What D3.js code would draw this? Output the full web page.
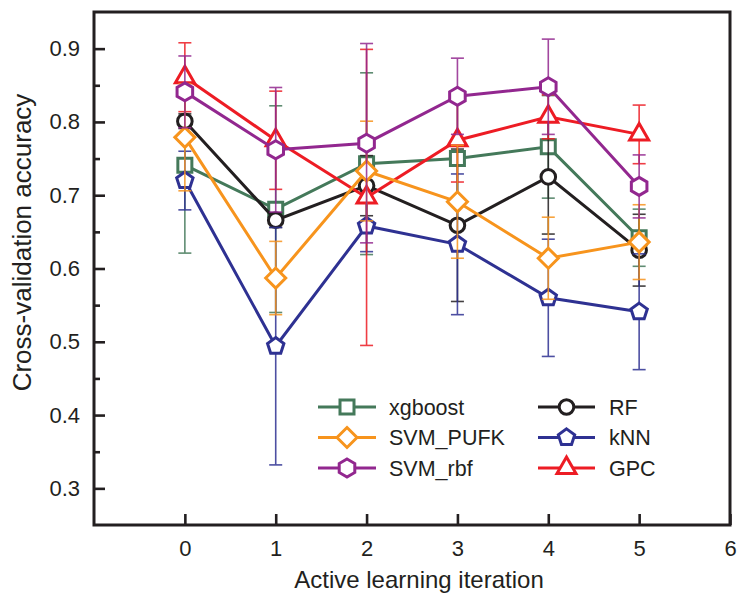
<!DOCTYPE html>
<html>
<head>
<meta charset="utf-8">
<script src="https://cdn.jsdelivr.net/npm/d3@7"></script>
<style>
  html, body { margin: 0; padding: 0; background: #fff; }
  svg { display: block; font-family: "Liberation Sans", Arial, sans-serif; }
</style>
</head>
<body>
<svg id="chart" width="738" height="594"></svg>
<script>
// Active learning iterations (x positions)
const iterations = [0, 1, 2, 3, 4, 5];
const xTicks = [0, 1, 2, 3, 4, 5, 6];
const yTicks = [0.3, 0.4, 0.5, 0.6, 0.7, 0.8, 0.9];

// Mean cross-validation accuracy and its error per model
const xgboostMean = [0.741, 0.681, 0.743, 0.750, 0.766, 0.642];
const xgboostErr  = [0.120, 0.141, 0.124, 0.090, 0.070, 0.039];
const rfMean      = [0.801, 0.666, 0.713, 0.659, 0.725, 0.625];
const rfErr       = [0.010, 0.010, 0.041, 0.104, 0.078, 0.049];
const pufkMean    = [0.779, 0.587, 0.733, 0.691, 0.614, 0.636];
const pufkErr     = [0.073, 0.050, 0.068, 0.077, 0.056, 0.051];
const knnMean     = [0.720, 0.494, 0.658, 0.633, 0.560, 0.541];
const knnErr      = [0.040, 0.162, 0.035, 0.096, 0.080, 0.079];
const rbfMean     = [0.841, 0.762, 0.771, 0.835, 0.848, 0.712];
const rbfErr      = [0.049, 0.085, 0.136, 0.052, 0.065, 0.043];
const gpcMean     = [0.861, 0.775, 0.697, 0.775, 0.807, 0.783];
const gpcErr      = [0.047, 0.067, 0.202, 0.057, 0.030, 0.040];

// Series in drawing order
const series = [
  { name: "xgboost",  mean: xgboostMean, err: xgboostErr, color: "#44795a", symbol: "square" },
  { name: "RF",       mean: rfMean,      err: rfErr,      color: "#231f20", symbol: "circle" },
  { name: "kNN",      mean: knnMean,     err: knnErr,     color: "#2e3192", symbol: "pentagon" },
  { name: "GPC",      mean: gpcMean,     err: gpcErr,     color: "#ed1c24", symbol: "triangle" },
  { name: "SVM_PUFK", mean: pufkMean,    err: pufkErr,    color: "#f7941d", symbol: "diamond" },
  { name: "SVM_rbf",  mean: rbfMean,     err: rbfErr,     color: "#92278f", symbol: "hexagon" }
];

// Legend layout: two columns of three
const legendLeft  = ["xgboost", "SVM_PUFK", "SVM_rbf"];
const legendRight = ["RF", "kNN", "GPC"];

const svg = d3.select("#chart");
const plot = { left: 94, right: 730, top: 12, bottom: 525 };

const x = d3.scaleLinear().domain([-1, 6]).range([plot.left, plot.right]);
const y = d3.scaleLinear().domain([0.25, 0.95]).range([plot.bottom, plot.top]);

// Marker outlines, centred on the data point
function polygon(n, r, rot) {
  const pts = [];
  for (let i = 0; i < n; i++) {
    const a = rot + i * 2 * Math.PI / n;
    pts.push([r * Math.cos(a), r * Math.sin(a)]);
  }
  return "M" + pts.map(p => p[0].toFixed(2) + "," + p[1].toFixed(2)).join("L") + "Z";
}
function symbolPath(type) {
  switch (type) {
    case "square":   return "M-7,-7H7V7H-7Z";
    case "circle":   return d3.arc()({ innerRadius: 0, outerRadius: 7.3, startAngle: 0, endAngle: 2 * Math.PI });
    case "diamond":  return "M0,-10L10,0L0,10L-10,0Z";
    case "pentagon": return polygon(5, 8.6, -Math.PI / 2);
    case "hexagon":  return polygon(6, 9, -Math.PI / 2);
    case "triangle": return "M0,-11L9.5,5.5L-9.5,5.5Z";
  }
}

// Frame
svg.append("rect")
  .attr("x", plot.left).attr("y", plot.top)
  .attr("width", plot.right - plot.left).attr("height", plot.bottom - plot.top)
  .attr("fill", "none").attr("stroke", "#231f20").attr("stroke-width", 3);

// Y axis: major ticks with labels, minor ticks between
const yAxis = d3.axisLeft(y).tickValues(yTicks).tickFormat(d3.format(".1f"))
  .tickSizeInner(-11).tickSizeOuter(0).tickPadding(14);
const gy = svg.append("g").attr("transform", `translate(${plot.left},0)`).call(yAxis);
const yMinor = d3.axisLeft(y).tickValues(d3.range(0.35, 0.95, 0.1)).tickFormat("")
  .tickSizeInner(-6).tickSizeOuter(0);
const gym = svg.append("g").attr("transform", `translate(${plot.left},0)`).call(yMinor);

// X axis
const xAxis = d3.axisBottom(x).tickValues(xTicks).tickFormat(d3.format("d"))
  .tickSizeInner(-11).tickSizeOuter(0).tickPadding(15);
const gx = svg.append("g").attr("transform", `translate(0,${plot.bottom})`).call(xAxis);

[gy, gym, gx].forEach(g => {
  g.select(".domain").remove();
  g.selectAll(".tick line").attr("stroke", "#231f20").attr("stroke-width", 2.6);
  g.selectAll(".tick text").attr("fill", "#231f20")
    .style("font-size", "22px").style("font-family", "'Liberation Sans', Arial, sans-serif");
});

// Axis titles
svg.append("text")
  .attr("transform", `translate(31,${(plot.top + plot.bottom) / 2 - 26}) rotate(-90)`)
  .attr("text-anchor", "middle")
  .attr("fill", "#231f20")
  .style("font-size", "26px")
  .text("Cross-validation accuracy");

svg.append("text")
  .attr("x", 419).attr("y", 588)
  .attr("text-anchor", "middle")
  .attr("fill", "#231f20")
  .style("font-size", "24px")
  .text("Active learning iteration");

const line = d3.line().x(d => x(d.x)).y(d => y(d.v));
const capHalf = 6.5;

// Each series: error bars, connecting line, then markers
series.forEach(s => {
  const pts = iterations.map((it, i) => ({ x: it, v: s.mean[i], e: s.err[i] }));
  const g = svg.append("g").attr("class", "series");

  const eb = g.append("g").attr("stroke", s.color).attr("stroke-width", 1.6).attr("opacity", 0.85);
  pts.forEach(p => {
    const cx = x(p.x), y0 = y(p.v - p.e), y1 = y(p.v + p.e);
    eb.append("line").attr("x1", cx).attr("x2", cx).attr("y1", y0).attr("y2", y1);
    eb.append("line").attr("x1", cx - capHalf).attr("x2", cx + capHalf).attr("y1", y0).attr("y2", y0);
    eb.append("line").attr("x1", cx - capHalf).attr("x2", cx + capHalf).attr("y1", y1).attr("y2", y1);
  });

  g.append("path").datum(pts)
    .attr("d", line)
    .attr("fill", "none").attr("stroke", s.color).attr("stroke-width", 3);

  g.selectAll("path.marker").data(pts).join("path")
    .attr("class", "marker")
    .attr("transform", d => `translate(${x(d.x)},${y(d.v)})`)
    .attr("d", symbolPath(s.symbol))
    .attr("fill", "#fff").attr("stroke", s.color).attr("stroke-width", 3)
    .attr("stroke-linejoin", "miter");
});

// Legend
const legendRow = [407, 437.5, 468];
const legendCols = [
  { names: legendLeft,  x0: 318, x1: 376, text: 389 },
  { names: legendRight, x0: 538, x1: 595, text: 609 }
];
legendCols.forEach(col => {
  col.names.forEach((name, i) => {
    const s = series.find(d => d.name === name);
    const ly = legendRow[i];
    const g = svg.append("g");
    g.append("line").attr("x1", col.x0).attr("x2", col.x1).attr("y1", ly).attr("y2", ly)
      .attr("stroke", s.color).attr("stroke-width", 3);
    g.append("path")
      .attr("transform", `translate(${(col.x0 + col.x1) / 2},${ly})`)
      .attr("d", symbolPath(s.symbol))
      .attr("fill", "#fff").attr("stroke", s.color).attr("stroke-width", 3);
    g.append("text").attr("x", col.text).attr("y", ly + 7.5)
      .attr("fill", "#231f20").style("font-size", "21.5px").text(name);
  });
});
</script>
</body>
</html>
